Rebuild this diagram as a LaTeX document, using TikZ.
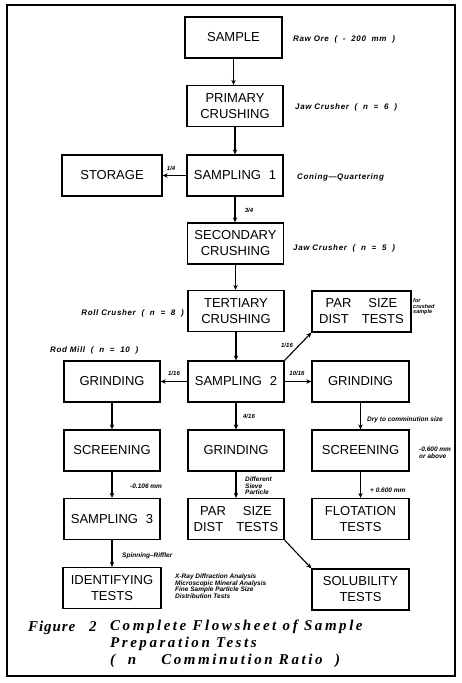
\documentclass[tikz,border=0pt]{standalone}
\usepackage{fontspec}
\setmainfont{Liberation Sans}
\newfontfamily\labfont[LetterSpace=8]{Liberation Sans}
\newfontfamily\capfont[LetterSpace=17]{Liberation Serif}
\newfontfamily\figfont[LetterSpace=6]{Liberation Serif}
\usetikzlibrary{arrows.meta}
\begin{document}
\begin{tikzpicture}[x=1pt,y=-1pt,
  box/.style={draw,line width=1.3pt,minimum width=96pt,minimum height=41pt,inner sep=1pt,
    align=center,font=\fontsize{13}{16}\selectfont},
  flow/.style={line width=1.1pt,-{Stealth[length=5pt,width=4.5pt]}},
  side/.style={font=\labfont\bfseries\itshape\fontsize{8}{9}\selectfont,inner sep=0pt},
  tiny/.style={font=\bfseries\itshape\fontsize{6.5}{6.5}\selectfont,inner sep=0pt,align=left},
  frac/.style={font=\bfseries\itshape\fontsize{6}{7}\selectfont,inner sep=0pt},
  captext/.style={font=\capfont\bfseries\itshape\fontsize{15}{16}\selectfont,inner sep=0pt,anchor=west},
  figtext/.style={font=\figfont\bfseries\itshape\fontsize{15}{16}\selectfont,inner sep=0pt,anchor=west}]
\useasboundingbox (0,0) rectangle (461,683);
\draw[line width=1.5pt] (7,5) rectangle (455,676);
% boxes
\node[box,minimum width=97pt] (sample) at (233.5,37.5) {SAMPLE};
\node[box] (primary) at (235,106) {PRIMARY\\CRUSHING};
\node[box] (s1) at (235,175.5) {SAMPLING\hspace{0.6em}1};
\node[box,minimum width=100pt] (storage) at (112,175.5) {STORAGE};
\node[box] (secondary) at (235.5,243.5) {SECONDARY\\CRUSHING};
\node[box] (tertiary) at (236,311) {TERTIARY\\CRUSHING};
\node[box,minimum width=99pt] (par1) at (361.5,311.5) {PAR\hspace{1.3em}SIZE\\DIST\hspace{1em}TESTS};
\node[box] (grindL) at (112,381.5) {GRINDING};
\node[box] (s2) at (236,381.5) {SAMPLING\hspace{0.6em}2};
\node[box,minimum width=97pt] (grindR) at (360.5,381.5) {GRINDING};
\node[box] (screenL) at (112,450.5) {SCREENING};
\node[box] (grindM) at (236,450.5) {GRINDING};
\node[box,minimum width=97pt] (screenR) at (360.5,450.5) {SCREENING};
\node[box] (s3) at (112,519) {SAMPLING\hspace{0.6em}3};
\node[box] (par2) at (236,519) {PAR\hspace{1.3em}SIZE\\DIST\hspace{1em}TESTS};
\node[box,minimum width=97pt] (flot) at (360.5,519) {FLOTATION\\TESTS};
\node[box,minimum width=98pt] (ident) at (112,588) {IDENTIFYING\\TESTS};
\node[box,minimum width=97pt] (solub) at (360.5,589.5) {SOLUBILITY\\TESTS};
% connectors
\draw[flow] (sample) -- (sample.south |- primary.north);
\draw[flow] (primary) -- (primary.south |- s1.north);
\draw[flow] (s1) -- (storage);
\draw[flow] (s1) -- (s1.south |- secondary.north);
\draw[flow] (secondary) -- (secondary.south |- tertiary.north);
\draw[flow] (tertiary) -- (tertiary.south |- s2.north);
\draw[flow] (s2.north east) -- (par1.south west);
\draw[flow] (s2) -- (grindL);
\draw[flow] (s2) -- (grindR);
\draw[flow] (s2) -- (grindM);
\draw[flow] (grindL) -- (screenL);
\draw[flow] (grindR) -- (screenR);
\draw[flow] (grindM) -- (par2);
\draw[flow] (screenL) -- (s3);
\draw[flow] (screenR) -- (flot);
\draw[flow] (s3) -- (ident);
\draw[flow] (par2.south east) -- (solub.north west);
% fractions
\node[frac] (f1) at (171,168) {1/4};
\node[frac] (f2) at (249,210) {3/4};
\node[frac] (f3) at (287,345) {1/16};
\node[frac] (f4) at (174,373) {1/16};
\node[frac] (f5) at (297,373) {10/16};
\node[frac] (f6) at (249,416) {4/16};
% side labels
\node[side,anchor=west] (l1) at (293,39) {Raw Ore\ \ (\ \ -\ \ 200\ \ mm\ \ )};
\node[side,anchor=west] (l2) at (295,107) {Jaw Crusher\ \ (\ \ n\ \ =\ \ 6\ \ )};
\node[side,anchor=west] (l3) at (297,177) {Coning\textemdash Quartering};
\node[side,anchor=west] (l4) at (293,248) {Jaw Crusher\ \ (\ \ n\ \ =\ \ 5\ \ )};
\node[side,anchor=east] (l5) at (184,313) {Roll Crusher\ \ (\ \ n\ \ =\ \ 8\ \ )};
\node[side,anchor=west] (l6) at (50,350) {Rod Mill\ \ (\ \ n\ \ =\ \ 10\ \ )};
% tiny labels
\node[tiny,anchor=west,font=\bfseries\itshape\fontsize{5.5}{5.5}\selectfont] (t1) at (413,307) {for\\crushed\\sample};
\node[tiny,anchor=west] (t2) at (367,420) {Dry to comminution size};
\node[tiny,anchor=west] (t3) at (419,453) {-0.600 mm\\or above};
\node[tiny,anchor=west] (t4) at (130,486) {-0.106 mm};
\node[tiny,anchor=west] (t5) at (245,486) {Different\\Sieve\\Particle};
\node[tiny,anchor=west] (t6) at (370,490) {+ 0.600 mm};
\node[tiny,anchor=west] (t7) at (122,556) {Spinning\textendash Riffler};
\node[tiny,anchor=west] (t8) at (175,586) {X-Ray Diffraction Analysis\\Microscopic Mineral Analysis\\Fine Sample Particle Size\\Distribution Tests};
% caption
\node[figtext] (c1) at (28,628) {Figure\ \ \ 2};
\node[captext] (c2) at (110,627) {Complete Flowsheet of Sample};
\node[captext] (c3) at (110,644) {Preparation Tests};
\node[captext] (c4) at (110,661) {(\ \ n\ \ \ \ Comminution Ratio\ \ )};
\end{tikzpicture}
\end{document}
